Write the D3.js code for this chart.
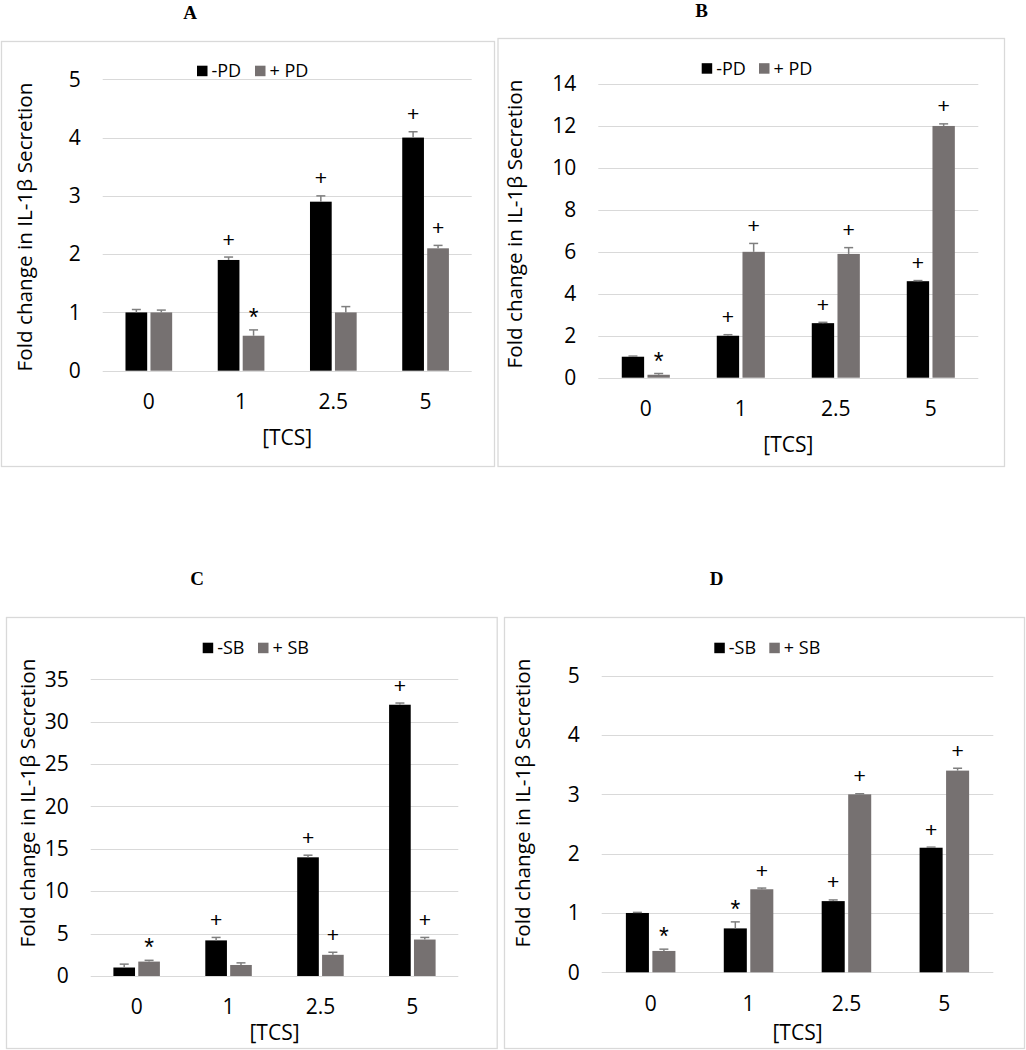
<!DOCTYPE html>
<html>
<head>
<meta charset="utf-8">
<script src="https://cdn.jsdelivr.net/npm/d3@7"></script>
<style>
  html, body { margin: 0; padding: 0; background: #fff; }
  svg { display: block; }
</style>
</head>
<body>
<svg id="chart" width="1026" height="1050"></svg>
<script>
// ---------------- DATA ----------------
const categories = ["0", "1", "2.5", "5"];
const xAxisTitle = "[TCS]";
const yAxisTitle = "Fold change in IL-1β Secretion";

// Panel A (PD)
const aLegend = ["-PD", "+ PD"];
const aTicks = [0, 1, 2, 3, 4, 5];
const aMinus = [1.0, 1.9, 2.9, 4.0];
const aMinusErr = [0.05, 0.05, 0.1, 0.1];
const aPlus = [1.0, 0.6, 1.0, 2.1];
const aPlusErr = [0.04, 0.1, 0.1, 0.05];
const aMinusMarks = ["", "+", "+", "+"];
const aPlusMarks = ["", "*", "", "+"];

// Panel B (PD)
const bLegend = ["-PD", "+ PD"];
const bTicks = [0, 2, 4, 6, 8, 10, 12, 14];
const bMinus = [1.0, 2.0, 2.6, 4.6];
const bMinusErr = [0.03, 0.05, 0.04, 0.03];
const bPlus = [0.14, 6.0, 5.9, 12.0];
const bPlusErr = [0.06, 0.4, 0.3, 0.1];
const bMinusMarks = ["", "+", "+", "+"];
const bPlusMarks = ["*", "+", "+", "+"];

// Panel C (SB)
const cLegend = ["-SB", "+ SB"];
const cTicks = [0, 5, 10, 15, 20, 25, 30, 35];
const cMinus = [1.0, 4.2, 14.0, 32.0];
const cMinusErr = [0.4, 0.35, 0.25, 0.2];
const cPlus = [1.7, 1.3, 2.5, 4.3];
const cPlusErr = [0.15, 0.25, 0.3, 0.25];
const cMinusMarks = ["", "+", "+", "+"];
const cPlusMarks = ["*", "", "+", "+"];

// Panel D (SB)
const dLegend = ["-SB", "+ SB"];
const dTicks = [0, 1, 2, 3, 4, 5];
const dMinus = [1.0, 0.74, 1.2, 2.1];
const dMinusErr = [0.01, 0.11, 0.02, 0.01];
const dPlus = [0.36, 1.4, 3.0, 3.4];
const dPlusErr = [0.03, 0.02, 0.01, 0.04];
const dMinusMarks = ["", "*", "+", "+"];
const dPlusMarks = ["*", "+", "+", "+"];

const panelLetters = ["A", "B", "C", "D"];

// ---------------- LAYOUT / STYLE ----------------
const FONT = "'Open Sans', 'Noto Sans', sans-serif";
const BLACK = "#000000";
const GRAY = "#767171";
const GRID = "#d9d9d9";
const ERR = "#7f7f7f";
const TICK_FS = 21;

const panels = [
  { letter: panelLetters[0], legend: aLegend, ticks: aTicks, minus: aMinus, minusErr: aMinusErr, plus: aPlus, plusErr: aPlusErr, minusMarks: aMinusMarks, plusMarks: aPlusMarks,
    box: [1, 41, 494, 466], plot: [102.7, 471.7, 79.3, 370.7], titlePos: [190, 12],
    legendPos: [197, 255, 71], yTitlePos: [25, 227], tcsY: 438 },
  { letter: panelLetters[1], legend: bLegend, ticks: bTicks, minus: bMinus, minusErr: bMinusErr, plus: bPlus, plusErr: bPlusErr, minusMarks: bMinusMarks, plusMarks: bPlusMarks,
    box: [497.5, 38, 1004, 466], plot: [598.3, 978.3, 84, 377.7], titlePos: [701.7, 10],
    legendPos: [701.7, 759, 68.5], yTitlePos: [515, 224], tcsY: 445 },
  { letter: panelLetters[2], legend: cLegend, ticks: cTicks, minus: cMinus, minusErr: cMinusErr, plus: cPlus, plusErr: cPlusErr, minusMarks: cMinusMarks, plusMarks: cPlusMarks,
    box: [6, 617, 496.7, 1048], plot: [90.7, 458.3, 679.3, 976], titlePos: [197, 578],
    legendPos: [202.7, 258, 648], yTitlePos: [28, 803], tcsY: 1033 },
  { letter: panelLetters[3], legend: dLegend, ticks: dTicks, minus: dMinus, minusErr: dMinusErr, plus: dPlus, plusErr: dPlusErr, minusMarks: dMinusMarks, plusMarks: dPlusMarks,
    box: [504, 617, 1024, 1048], plot: [601.7, 993.3, 675.7, 972.3], titlePos: [716.7, 578],
    legendPos: [714.3, 769.3, 648], yTitlePos: [523, 803], tcsY: 1033 }
];

const svg = d3.select("#chart");

panels.forEach(p => {
  const g = svg.append("g");
  const [bx0, by0, bx1, by1] = p.box;
  const [px0, px1, pyTop, pyBot] = p.plot;

  // panel title (A/B/C/D)
  g.append("text")
    .attr("x", p.titlePos[0]).attr("y", p.titlePos[1] + 6.5)
    .attr("text-anchor", "middle")
    .attr("font-family", "'Liberation Serif', 'Times New Roman', serif")
    .attr("font-weight", "bold").attr("font-size", 19)
    .text(p.letter);

  // chart border
  g.append("rect")
    .attr("x", bx0 + 0.5).attr("y", by0 + 0.5)
    .attr("width", bx1 - bx0).attr("height", by1 - by0)
    .attr("fill", "none").attr("stroke", GRID).attr("stroke-width", 1.3);

  const yMax = p.ticks[p.ticks.length - 1];
  const y = d3.scaleLinear().domain([0, yMax]).range([pyBot, pyTop]);
  const x = d3.scaleBand().domain(categories).range([px0, px1]).paddingInner(0).paddingOuter(0);
  const bw = x.bandwidth();
  const barW = bw * 0.22;
  const gap = bw * 0.066;
  const sub = d3.scaleBand().domain(["minus", "plus"]).range([bw / 2 - gap / 2 - barW, bw / 2 + gap / 2 + barW]).paddingInner(gap / (2 * barW + gap)).paddingOuter(0);

  // gridlines
  g.append("g").selectAll("line").data(p.ticks).join("line")
    .attr("x1", px0).attr("x2", px1)
    .attr("y1", d => Math.round(y(d)) + 0.5).attr("y2", d => Math.round(y(d)) + 0.5)
    .attr("stroke", GRID).attr("stroke-width", 1.2);

  // y tick labels via axis
  const yAxis = d3.axisLeft(y).tickValues(p.ticks).tickSize(0).tickPadding(22).tickFormat(d3.format("d"));
  const yg = g.append("g").attr("transform", `translate(${px0},0)`).call(yAxis);
  yg.select(".domain").remove();
  yg.selectAll("text").attr("font-family", FONT).attr("font-size", TICK_FS).attr("fill", "#000");

  // x tick labels via axis
  const xAxis = d3.axisBottom(x).tickSize(0).tickPadding(23.5);
  const xg = g.append("g").attr("transform", `translate(0,${pyBot})`).call(xAxis);
  xg.select(".domain").remove();
  xg.selectAll("text").attr("font-family", FONT).attr("font-size", TICK_FS).attr("fill", "#000");

  // bars
  const series = [
    { key: "minus", vals: p.minus, errs: p.minusErr, marks: p.minusMarks, color: BLACK },
    { key: "plus", vals: p.plus, errs: p.plusErr, marks: p.plusMarks, color: GRAY }
  ];
  series.forEach(s => {
    const rows = categories.map((c, i) => ({ c, v: s.vals[i], e: s.errs[i], m: s.marks[i] }));
    const sg = g.append("g");
    sg.selectAll("rect").data(rows).join("rect")
      .attr("x", d => x(d.c) + sub(s.key))
      .attr("width", sub.bandwidth())
      .attr("y", d => y(d.v))
      .attr("height", d => y(0) - y(d.v))
      .attr("fill", s.color);
    // error bars (upper only)
    sg.selectAll("line.err").data(rows).join("line").attr("class", "err")
      .attr("x1", d => x(d.c) + sub(s.key) + sub.bandwidth() / 2)
      .attr("x2", d => x(d.c) + sub(s.key) + sub.bandwidth() / 2)
      .attr("y1", d => y(d.v)).attr("y2", d => y(d.v + d.e))
      .attr("stroke", ERR).attr("stroke-width", 1.5);
    sg.selectAll("line.cap").data(rows).join("line").attr("class", "cap")
      .attr("x1", d => x(d.c) + sub(s.key) + sub.bandwidth() / 2 - 4.5)
      .attr("x2", d => x(d.c) + sub(s.key) + sub.bandwidth() / 2 + 4.5)
      .attr("y1", d => y(d.v + d.e)).attr("y2", d => y(d.v + d.e))
      .attr("stroke", ERR).attr("stroke-width", 1.5);
    // significance marks
    sg.selectAll("text.mark").data(rows.filter(d => d.m)).join("text").attr("class", "mark")
      .attr("x", d => x(d.c) + sub(s.key) + sub.bandwidth() / 2)
      .attr("y", d => y(d.v + d.e) + (d.m === "*" ? -4 : -10.5))
      .attr("text-anchor", "middle")
      .attr("font-family", "'Liberation Sans', Arial, sans-serif")
      .attr("font-size", d => d.m === "*" ? 25 : 21).attr("fill", "#000")
      .text(d => d.m);
  });

  // legend
  const [lx1, lx2, ly] = p.legendPos;
  [[lx1, BLACK, p.legend[0]], [lx2, GRAY, p.legend[1]]].forEach(([lx, col, label]) => {
    g.append("rect").attr("x", lx).attr("y", ly - 5.3).attr("width", 10.5).attr("height", 10.5).attr("fill", col);
    g.append("text").attr("x", lx + 14.5).attr("y", ly + 6.3)
      .attr("font-family", FONT).attr("font-size", 18).attr("fill", "#000").text(label);
  });

  // y axis title
  g.append("text")
    .attr("transform", `translate(${p.yTitlePos[0]},${p.yTitlePos[1]}) rotate(-90)`)
    .attr("text-anchor", "middle").attr("dy", "0.35em")
    .attr("font-family", FONT).attr("font-size", 20.7).attr("fill", "#000")
    .text(yAxisTitle);

  // x axis title
  g.append("text")
    .attr("x", (px0 + px1) / 2).attr("y", p.tcsY).attr("dy", "0.35em")
    .attr("text-anchor", "middle")
    .attr("font-family", FONT).attr("font-size", TICK_FS).attr("fill", "#000")
    .text(xAxisTitle);
});
</script>
</body>
</html>
